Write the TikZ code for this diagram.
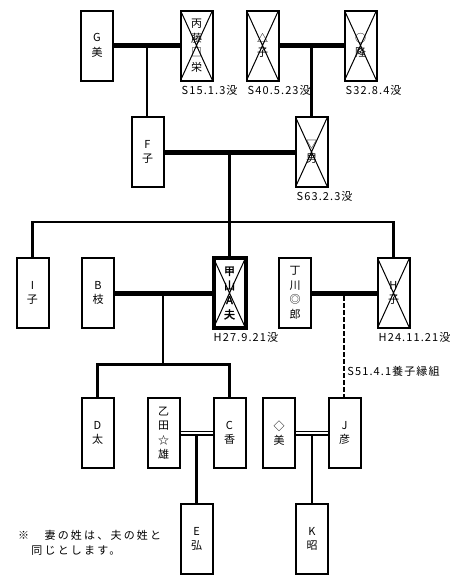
\documentclass[tikz,border=0pt]{standalone}
\usepackage{fontspec}
\setmainfont{Noto Sans CJK JP}
\newfontfamily\notefont[LetterSpace=20]{Noto Sans CJK JP}
\newfontfamily\labelfont[LetterSpace=10]{Noto Sans CJK JP}
\newfontfamily\boldjp[FakeBold=2.5]{Noto Sans CJK JP}
\usetikzlibrary{calc}
\tikzset{
  person/.style={draw, line width=2pt, minimum width=32pt, minimum height=70pt,
    inner sep=0pt, align=center, font=\fontsize{11}{14.5}\selectfont},
  dead/.style={person, path picture={\draw[line width=1pt]
    (path picture bounding box.north west) -- (path picture bounding box.south east)
    (path picture bounding box.north east) -- (path picture bounding box.south west);}},
  marriage/.style={line width=5pt},
  link/.style={line width=2.4pt},
  pair/.style={line width=1.5pt, double, double distance=2pt},
  adopt/.style={line width=2.4pt, dash pattern=on 5pt off 2pt},
  deathdate/.style={inner sep=0pt, anchor=north west, font=\labelfont\fontsize{11}{12}\selectfont},
}
\begin{document}
\begin{tikzpicture}[x=1pt,y=-1pt]
\useasboundingbox (0,0) rectangle (455,576);
% generation 1
\node[person] (G) at (97,45.5) {G\\美};
\node[dead] (hei) at (196.5,45.5) {丙\\藤\\□\\栄};
\node[dead] (san) at (262.5,45.5) {△\\子};
\node[dead] (taka) at (360.5,45.5) {○\\隆};
% generation 2
\node[person] (F) at (147.5,152) {F\\子};
\node[dead] (oto) at (311.5,152) {▽\\男};
% generation 3
\node[person] (I) at (32.5,293) {I\\子};
\node[person] (B) at (98,293) {B\\枝};
\node[dead, line width=4pt, font=\boldjp\fontsize{11}{14.5}\selectfont] (kou) at (229.5,293) {甲\\山\\A\\夫};
\node[person] (tei) at (295,293) {丁\\川\\◎\\郎};
\node[dead] (H) at (393.5,293) {H\\子};
% generation 4
\node[person] (D) at (97.5,433) {D\\太};
\node[person] (otsu) at (163.5,433) {乙\\田\\☆\\雄};
\node[person] (C) at (229.5,433) {C\\香};
\node[person] (mi) at (279,433) {◇\\美};
\node[person] (J) at (344.5,433) {J\\彦};
% generation 5
\node[person] (E) at (196.5,539) {E\\弘};
\node[person] (K) at (312,539) {K\\昭};

% death dates
\node[deathdate] (dhei) at ($(hei.south west)+(2,3.5)$) {S15.1.3没};
\node[deathdate] (dsan) at ($(san.south west)+(2,3.5)$) {S40.5.23没};
\node[deathdate] (dtaka) at ($(taka.south west)+(2,3.5)$) {S32.8.4没};
\node[deathdate] (doto) at ($(oto.south west)+(2,3.5)$) {S63.2.3没};
\node[deathdate] (dkou) at ($(kou.south west)+(2,2.5)$) {H27.9.21没};
\node[deathdate] (dH) at ($(H.south west)+(2,3.5)$) {H24.11.21没};

% marriages gen 1
\draw[marriage] (G) -- (hei);
\coordinate (m1) at ($(G.east)!0.5!(hei.west)$);
\draw[link] (m1) -- (m1 |- F.north);
\draw[marriage] (san) -- (taka);
\coordinate (m2) at ($(san.east)!0.5!(taka.west)$);
\draw[link] (m2) -- (m2 |- oto.north);
% gen 2
\draw[marriage] (F) -- (oto);
\coordinate (m3) at ($(F.east)!0.5!(oto.west)$);
\coordinate (bar1) at (229.5,222);
\draw[link] (m3) -- (m3 |- kou.north);
\draw[link] (I.north) -- (I.north |- bar1) -- (H.north |- bar1) -- (H.north);
% gen 3
\draw[marriage] (B) -- (kou);
\coordinate (m4) at ($(B.east)!0.5!(kou.west)$);
\coordinate (bar2) at (163.5,364.5);
\draw[link] (m4) -- (m4 |- bar2);
\draw[link] (D.north) -- (D.north |- bar2) -- (C.north |- bar2) -- (C.north);
\draw[marriage] (tei) -- (H);
\coordinate (m5) at ($(tei.east)!0.5!(H.west)$);
\draw[adopt] ($(m5)+(0,3)$) -- (m5 |- J.north);
\node[inner sep=0pt, anchor=west, font=\labelfont\fontsize{11}{12}\selectfont] (adoptlabel) at ($(m5 |- J.north)+(3,-26)$) {S51.4.1養子縁組};
% gen 4
\draw[pair] (otsu) -- (C);
\coordinate (m6) at ($(otsu.east)!0.5!(C.west)+(0,2.5)$);
\draw[link] (m6) -- (m6 |- E.north);
\draw[pair] (mi) -- (J);
\coordinate (m7) at ($(mi.east)!0.5!(J.west)+(0,2.5)$);
\draw[link] (m7) -- (m7 |- K.north);

% note
\node[anchor=west, align=left, inner sep=0pt, font=\notefont\fontsize{11}{15}\selectfont] (note) at (18,542.5) {※　妻の姓は、夫の姓と\\　同じとします。};
\end{tikzpicture}
\end{document}
